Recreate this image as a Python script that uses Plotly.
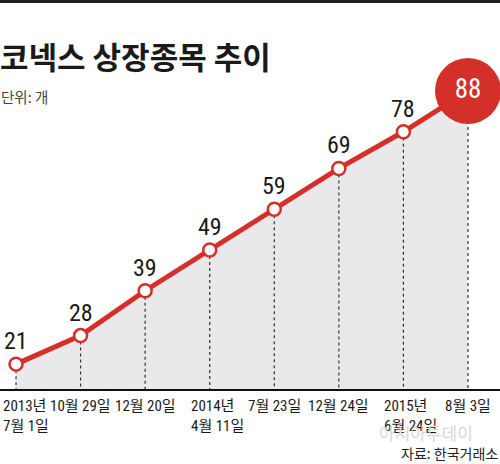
import plotly.graph_objects as go

# ---- data ----
categories = ["2013년<br>7월 1일", "10월 29일", "12월 20일", "2014년<br>4월 11일",
              "7월 23일", "12월 24일", "2015년<br>6월 24일", "8월 3일"]
values = [21, 28, 39, 49, 59, 69, 78, 88]
title_text = "코넥스 상장종목 추이"
unit_text = "단위: 개"
source_text = "자료: 한국거래소"
watermark_text = "아시아투데이"

RED = "#d52f29"
FILL = "#e9e9eb"
NUM_FONT = "Roboto Condensed, DejaVu Sans Condensed, Liberation Sans Narrow, Noto Sans CJK KR, sans-serif"
KR_FONT = "Noto Sans CJK KR, sans-serif"

W, H = 500, 464
MT, MB = 60, 75
PLOT_H = H - MT - MB

def py(pixel_y):
    return (H - MB - pixel_y) / PLOT_H

xs = list(range(len(values)))
y_min, y_max = 14.9, 95.6

fig = go.Figure()

fig.add_trace(go.Scatter(x=xs, y=values, mode="lines", line=dict(width=0),
                         fill="tozeroy", fillcolor=FILL, hoverinfo="skip"))

dx, dy = [], []
for x, v in zip(xs, values):
    dx += [x, x, None]
    dy += [v, y_min, None]
fig.add_trace(go.Scatter(x=dx, y=dy, mode="lines",
                         line=dict(color="#333333", width=1.2, dash="dot"),
                         hoverinfo="skip"))

fig.add_trace(go.Scatter(x=xs, y=values, mode="lines+markers",
                         line=dict(color=RED, width=5),
                         marker=dict(size=13, color="white",
                                     line=dict(color=RED, width=2.5)),
                         cliponaxis=False))

fig.add_trace(go.Scatter(x=[xs[-1]], y=[values[-1]], mode="markers+text",
                         marker=dict(size=66, color=RED, line=dict(width=0)),
                         text=[str(values[-1])], textposition="middle center",
                         textfont=dict(color="white", size=27, family=NUM_FONT),
                         cliponaxis=False))

annotations = []
for x, v in zip(xs[:-1], values[:-1]):
    annotations.append(dict(x=x, y=v, xref="x", yref="y", text=str(v),
                            showarrow=False, yshift=23, yanchor="middle",
                            font=dict(size=24, color="#1a1a1a", family=NUM_FONT)))

for i, (x, c) in enumerate(zip(xs, categories)):
    two = "<br>" in c
    if i == 0:
        anchor, shift = "left", -15
    elif two:
        anchor, shift = "left", -21
    else:
        anchor, shift = "center", 0
    annotations.append(dict(x=x, y=0, xref="x", yref="paper", text=c,
                            showarrow=False, xanchor=anchor, xshift=shift,
                            yanchor="top", yshift=-6, align="left",
                            font=dict(size=15, color="#1a1a1a", family=NUM_FONT)))

annotations.append(dict(x=0, y=py(55), xref="paper", yref="paper", text=f"<b>{title_text}</b>",
                        showarrow=False, xanchor="left", yanchor="middle", xshift=-2,
                        font=dict(size=31, color="#1a1a1a", family=KR_FONT)))
annotations.append(dict(x=0, y=py(96), xref="paper", yref="paper", text=unit_text,
                        showarrow=False, xanchor="left", yanchor="middle", xshift=-1,
                        font=dict(size=14.5, color="#444444", family=KR_FONT)))
annotations.append(dict(x=1, y=py(453), xref="paper", yref="paper", text=source_text,
                        showarrow=False, xanchor="right", yanchor="middle",
                        font=dict(size=14, color="#222222", family=KR_FONT)))
annotations.append(dict(x=1, y=py(432), xref="paper", yref="paper", text=watermark_text,
                        showarrow=False, xanchor="right", yanchor="middle", xshift=-25,
                        font=dict(size=17, color="#d8d8d8", family=KR_FONT)))

fig.update_layout(
    width=W, height=H,
    margin=dict(l=0, r=0, t=MT, b=MB),
    paper_bgcolor="white", plot_bgcolor="white",
    showlegend=False,
    xaxis=dict(range=[-0.248, 7.496], showgrid=False, zeroline=False,
               showticklabels=False, showline=True, linecolor="#111111",
               linewidth=1.5, fixedrange=True),
    yaxis=dict(range=[y_min, y_max], showgrid=False, zeroline=False,
               showticklabels=False, showline=False, fixedrange=True),
    annotations=annotations,
    shapes=[dict(type="rect", xref="paper", yref="paper", x0=0, x1=1,
                 y0=py(3), y1=py(0), fillcolor="#222222", line=dict(width=0))],
)

fig.write_html("out.html", config={"displayModeBar": False})
